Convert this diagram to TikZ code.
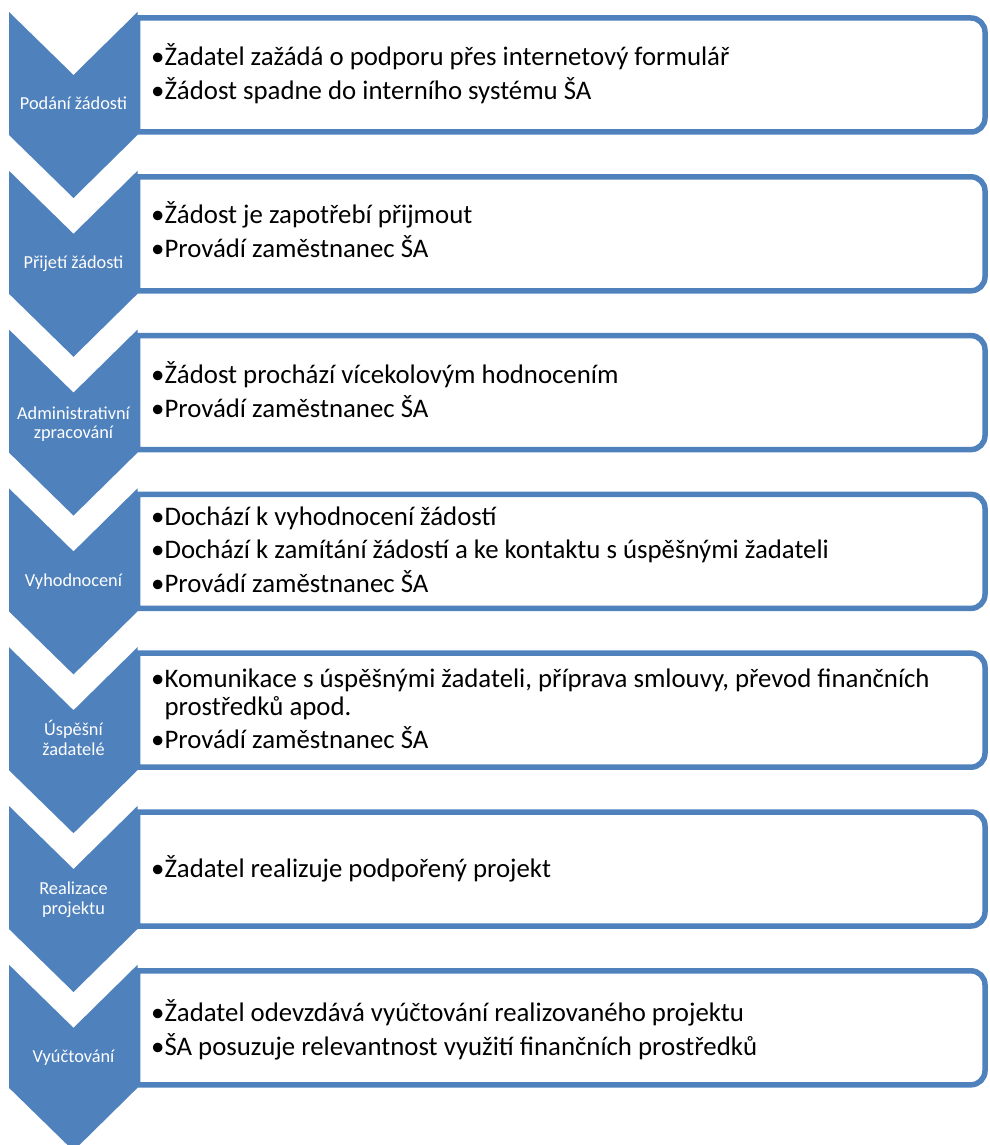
\documentclass[tikz,border=0pt]{standalone}
\usepackage{fontspec}
\setmainfont{Carlito}
\definecolor{accblue}{HTML}{4F81BD}
\newcommand{\mychev}[1]{%
  \fill[accblue] (9,#1) -- (73.5,#1+63) -- (137.5,#1) -- (137.5,#1+123) -- (73.5,#1+186) -- (9,#1+123) -- cycle;}
\newcommand{\mybox}[1]{%
  \draw[boxline] (137.5,#1+6) -- (971,#1+6) .. controls (978.7,#1+6) and (985,#1+12.3) .. (985,#1+20)
    -- (985,#1+106) .. controls (985,#1+113.7) and (978.7,#1+120) .. (971,#1+120) -- (137.5,#1+120) -- cycle;}
\begin{document}
\begin{tikzpicture}[x=1pt,y=-1pt,
  boxline/.style={draw=accblue, line width=5.5pt, fill=white},
  chevtxt/.style={text=white, font=\fontsize{18.3}{20}\selectfont, anchor=base, inner sep=0pt},
  boxtxt/.style={text=black, font=\fontsize{26.8}{30}\selectfont, anchor=base west, inner sep=0pt}]
\useasboundingbox (0,0) rectangle (989,1145);
\clip (0,0) rectangle (989,1145);
% boxes
\mybox{12}
\mybox{170.8}
\mybox{329.6}
\mybox{488.4}
\mybox{647.2}
\mybox{806}
\mybox{964.8}
% chevrons
\mychev{12}
\mychev{170.8}
\mychev{329.6}
\mychev{488.4}
\mychev{647.2}
\mychev{806}
\mychev{964.8}
% chevron labels
\node[chevtxt] (c1) at (73.5,110) {Podání žádosti};
\node[chevtxt] (c2) at (73.5,268.8) {Přijetí žádosti};
\node[chevtxt] (c3a) at (73.5,419.1) {Administrativní};
\node[chevtxt] (c3b) at (73.5,438.6) {zpracování};
\node[chevtxt] (c4) at (73.5,586.4) {Vyhodnocení};
\node[chevtxt] (c5a) at (73.5,735.7) {Úspěšní};
\node[chevtxt] (c5b) at (73.5,755.2) {žadatelé};
\node[chevtxt] (c6a) at (73.5,894.5) {Realizace};
\node[chevtxt] (c6b) at (73.5,914) {projektu};
\node[chevtxt] (c7) at (73.5,1062.8) {Vyúčtování};
% box texts
\node[boxtxt] (t1a) at (151,65.5) {•Žadatel zažádá o podporu přes internetový formulář};
\node[boxtxt] (t1b) at (151,99.5) {•Žádost spadne do interního systému ŠA};
\node[boxtxt] (t2a) at (151,223.5) {•Žádost je zapotřebí přijmout};
\node[boxtxt] (t2b) at (151,257.5) {•Provádí zaměstnanec ŠA};
\node[boxtxt] (t3a) at (151,383) {•Žádost prochází vícekolovým hodnocením};
\node[boxtxt] (t3b) at (151,417.5) {•Provádí zaměstnanec ŠA};
\node[boxtxt] (t4a) at (151,525) {•Dochází k vyhodnocení žádostí};
\node[boxtxt] (t4b) at (151,558.5) {•Dochází k zamítání žádostí a ke kontaktu s úspěšnými žadateli};
\node[boxtxt] (t4c) at (151,592) {•Provádí zaměstnanec ŠA};
\node[boxtxt] (t5a) at (151,687.5) {•Komunikace s úspěšnými žadateli, příprava smlouvy, převod finančních};
\node[boxtxt] (t5b) at (151,715.5) {\hphantom{•}prostředků apod.};
\node[boxtxt] (t5c) at (151,748.5) {•Provádí zaměstnanec ŠA};
\node[boxtxt] (t6) at (151,877) {•Žadatel realizuje podpořený projekt};
\node[boxtxt] (t7a) at (151,1021) {•Žadatel odevzdává vyúčtování realizovaného projektu};
\node[boxtxt] (t7b) at (151,1055) {•ŠA posuzuje relevantnost využití finančních prostředků};
\end{tikzpicture}
\end{document}
